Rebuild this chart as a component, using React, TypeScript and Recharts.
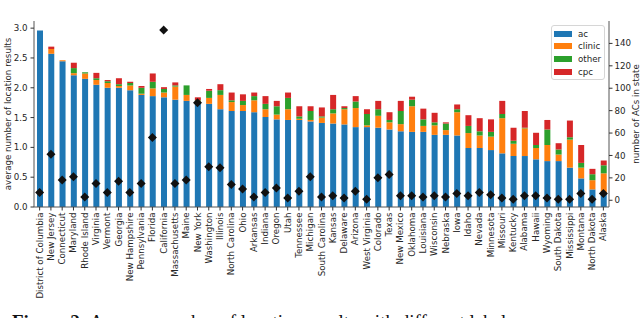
import {
  ComposedChart, Bar, Scatter, XAxis, YAxis,
} from "recharts";

const STATES = [
  "District of Columbia", "New Jersey", "Connecticut", "Maryland", "Rhode Island",
  "Virginia", "Vermont", "Georgia", "New Hampshire", "Pennsylvania", "Florida",
  "California", "Massachusetts", "Maine", "New York", "Washington", "Illinois",
  "North Carolina", "Ohio", "Arkansas", "Indiana", "Oregon", "Utah", "Tennessee",
  "Michigan", "South Carolina", "Kansas", "Delaware", "Arizona", "West Virginia",
  "Colorado", "Texas", "New Mexico", "Oklahoma", "Louisiana", "Wisconsin",
  "Nebraska", "Iowa", "Idaho", "Nevada", "Minnesota", "Missouri", "Kentucky",
  "Alabama", "Hawaii", "Wyoming", "South Dakota", "Mississippi", "Montana",
  "North Dakota", "Alaska",
];

const AC = [
  2.96, 2.57, 2.445, 2.21, 2.15, 2.05, 2.0, 2.0, 1.96, 1.88, 1.86, 1.84, 1.8,
  1.78, 1.76, 1.73, 1.64, 1.61, 1.61, 1.59, 1.51, 1.47, 1.46, 1.46, 1.435, 1.41,
  1.4, 1.385, 1.34, 1.34, 1.33, 1.3, 1.27, 1.26, 1.26, 1.21, 1.21, 1.2, 0.99,
  0.99, 0.955, 0.9, 0.855, 0.855, 0.8, 0.77, 0.77, 0.66, 0.48, 0.295, 0.22,
];
const CLINIC = [
  0, 0.08, 0.015, 0.035, 0.09, 0.08, 0.08, 0.03, 0.08, 0.02, 0.13, 0.08, 0.22,
  0.1, 0.01, 0.1, 0.24, 0.15, 0.1, 0.2, 0.13, 0.08, 0.18, 0.02, 0.025, 0.09,
  0.17, 0.255, 0.32, 0.03, 0.2, 0.12, 0.12, 0.43, 0.1, 0.16, 0.08, 0.39, 0.25,
  0.21, 0.225, 0.59, 0.205, 0.465, 0.19, 0.27, 0.11, 0.47, 0.18, 0.155, 0.345,
];
const OTHER = [
  0, 0, 0, 0.085, 0.02, 0.03, 0.03, 0.03, 0.04, 0.1, 0.11, 0.06, 0.02, 0.16,
  0.02, 0.12, 0.08, 0.03, 0.07, 0.07, 0.09, 0.14, 0.19, 0.04, 0.15, 0.02, 0.07,
  0.02, 0.11, 0.19, 0.11, 0.04, 0.22, 0.11, 0.11, 0.05, 0.11, 0.05, 0.12, 0.07,
  0.08, 0.07, 0.05, 0.01, 0.05, 0.26, 0.085, 0.04, 0.08, 0.1, 0.135,
];
const CPC = [
  0, 0.04, 0, 0.09, 0, 0.09, 0.02, 0.1, 0.02, 0.03, 0.14, 0.03, 0.05, 0, 0.05,
  0.03, 0.1, 0.13, 0.11, 0.06, 0.13, 0.09, 0.09, 0.17, 0.08, 0.15, 0.24, 0.03,
  0.09, 0.08, 0.14, 0.13, 0.17, 0.05, 0.18, 0.16, 0.02, 0.08, 0.18, 0.22, 0.21,
  0.22, 0.22, 0.28, 0.205, 0.16, 0.105, 0.28, 0.3, 0.09, 0.08,
];
const N_ACS = [
  7, 41, 18, 21, 3, 15, 7, 17, 7, 15, 56, 152, 15, 18, 87, 30, 29, 14, 10, 3, 7,
  11, 2, 8, 21, 3, 4, 2, 8, 1, 20, 23, 4, 4, 3, 4, 3, 6, 4, 7, 5, 2, 1, 4, 4, 2,
  1, 1, 6, 1, 6,
];

const LEFT_TICKS = [0, 0.5, 1, 1.5, 2, 2.5, 3];
const RIGHT_TICKS = [0, 20, 40, 60, 80, 100, 120, 140];

const SERIES = [
  { key: "ac", color: "#1f77b4" },
  { key: "clinic", color: "#ff7f0e" },
  { key: "other", color: "#2ca02c" },
  { key: "cpc", color: "#d62728" },
];

const data = STATES.map((state, i) => ({
  state, ac: AC[i], clinic: CLINIC[i], other: OTHER[i], cpc: CPC[i], n: N_ACS[i],
}));

const FONT = "DejaVu Sans";
const TXT = "#262626";
const SPINE = "#555";
const FS = 8.7;

function StateTick({ x, y, payload }: any) {
  return (
    <text x={x} y={y} transform={`rotate(-90 ${x} ${y})`} textAnchor="end"
      dy="0.35em" fontSize={FS} fill={TXT} fontFamily={FONT}>
      {payload.value}
    </text>
  );
}

function Diamond({ cx, cy }: any) {
  const r = 4.5;
  return (
    <polygon points={`${cx},${cy - r} ${cx + r},${cy} ${cx},${cy + r} ${cx - r},${cy}`}
      fill="#111" />
  );
}

function LegendBox() {
  return (
    <div style={{
      position: "absolute", left: 551, top: 25, width: 52, height: 53,
      border: "1px solid #d6d6d6", borderRadius: 3, background: "rgba(255,255,255,0.85)",
      fontFamily: FONT, fontSize: FS, color: TXT,
    }}>
      {SERIES.map((s, i) => (
        <div key={s.key} style={{ position: "absolute", left: 2, top: 3 + i * 12.9, height: 9, display: "flex", alignItems: "center" }}>
          <span style={{ display: "inline-block", width: 18, height: 6, background: s.color, marginRight: 6 }} />
          <span>{s.key}</span>
        </div>
      ))}
    </div>
  );
}

export default function App() {
  return (
    <div style={{ position: "absolute", left: 0, top: 0, width: 640, height: 318, overflow: "hidden", background: "#fff" }}>
      <ComposedChart width={640} height={318} data={data}
        margin={{ top: 21, right: 0, bottom: 0, left: 0 }} barCategoryGap={0}>
        <XAxis dataKey="state" interval={0} height={111} tick={<StateTick />}
          tickSize={3.5} tickMargin={2} stroke={SPINE} tickLine={{ stroke: "#333" }} />
        <XAxis xAxisId="top" dataKey="state" orientation="top" height={0} tick={false}
          tickLine={false} stroke={SPINE} />
        <YAxis yAxisId="left" width={34} domain={[0, 3.12]} ticks={LEFT_TICKS}
          tickFormatter={(v: number) => v.toFixed(1)} tickSize={3.5} tickMargin={3}
          stroke={SPINE} tickLine={{ stroke: "#333" }}
          tick={{ fontSize: FS, fill: TXT, fontFamily: FONT }} />
        <YAxis yAxisId="right" orientation="right" width={31} domain={[-6, 160]}
          ticks={RIGHT_TICKS} tickSize={3.5} tickMargin={2} stroke={SPINE}
          tickLine={{ stroke: "#333" }}
          tick={{ fontSize: FS, fill: TXT, fontFamily: FONT, textAnchor: "start" }} />
        {SERIES.map((s) => (
          <Bar key={s.key} yAxisId="left" dataKey={s.key} stackId="a" fill={s.color}
            barSize={6} isAnimationActive={false} />
        ))}
        <Scatter yAxisId="right" dataKey="n" shape={<Diamond />} isAnimationActive={false} />
        <text x={8} y={114} transform="rotate(-90 8 114)" textAnchor="middle" dy="0.35em"
          fontSize={FS} fill={TXT} fontFamily={FONT}>average number of location results</text>
        <text x={636} y={114} transform="rotate(-90 636 114)" textAnchor="middle" dy="0.35em"
          fontSize={FS} fill={TXT} fontFamily={FONT}>number of ACs in state</text>
      </ComposedChart>
      <LegendBox />
      <div style={{
        position: "absolute", left: 12, top: 312, whiteSpace: "nowrap",
        fontFamily: "Liberation Serif", fontSize: 19, lineHeight: "19px", color: "#111",
      }}>
        <b>Figure 2:</b> Average number of location results with different labels
      </div>
    </div>
  );
}
